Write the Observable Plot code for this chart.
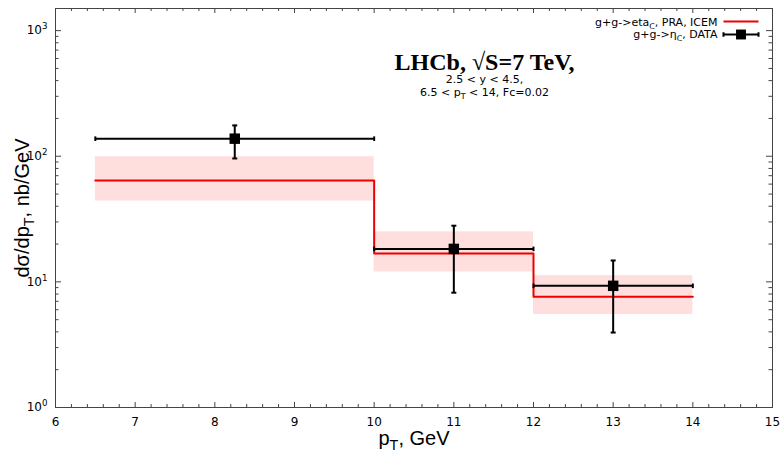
<!DOCTYPE html>
<html><head><meta charset="utf-8">
<script src="https://cdn.jsdelivr.net/npm/d3@7"></script>
<script src="https://cdn.jsdelivr.net/npm/@observablehq/plot@0.6"></script>
<style>body{margin:0;background:#fff}</style>
</head><body><div id="chart"></div>
<script>
// ---- data ----
const binLow = [6.5, 10, 12];
const binHigh = [10, 12, 14];
const theoryCentral = [64, 16.8, 7.6];
const theoryLow = [44, 12, 5.5];
const theoryHigh = [99, 25, 11.2];
const dataPt = [8.25, 11, 13];
const dataValue = [138, 18.3, 9.3];
const dataErrLow = [96, 8.2, 3.95];
const dataErrHigh = [176, 28, 14.8];
const xTicks = [6, 7, 8, 9, 10, 11, 12, 13, 14, 15];
const yTicks = [1, 10, 100, 1000];
const yTickLabels = ["10^{0}", "10^{1}", "10^{2}", "10^{3}"];
const legendLabels = ["g+g->eta_{C}, PRA, ICEM", "g+g->η_{C}, DATA"];
const titleText = "LHCb, √S=7 TeV,";
const subtitleLines = ["2.5 < y < 4.5,", "6.5 < p_{T} < 14, Fc=0.02"];
const xLabel = "p_{T}, GeV";
const yLabel = "dσ/dp_{T}, nb/GeV";

// ---- derived tables ----
const bins = binLow.map((lo, i) => ({lo, hi: binHigh[i], c: theoryCentral[i], l: theoryLow[i], h: theoryHigh[i]}));
const stepPts = bins.flatMap(b => [{x: b.lo, y: b.c}, {x: b.hi, y: b.c}]);
const pts = dataPt.map((x, i) => ({x, lo: binLow[i], hi: binHigh[i], v: dataValue[i], el: dataErrLow[i], eh: dataErrHigh[i]}));
const xMinor = d3.range(60, 150, 2).map(d => d / 10).filter(d => !xTicks.includes(d));
const yMinor = [1, 10, 100].flatMap(p => [2,3,4,5,6,7,8,9].map(k => k * p));

const W = 783, H = 452, mL = 55, mR = 11, mT = 8, mB = 45;
const fw = W - mL - mR, fh = H - mT - mB;
const tickCol = "#444";

const vcap = {draw(ctx) { ctx.moveTo(0, -2.3); ctx.lineTo(0, 2.3); }};
const hcap = {draw(ctx) { ctx.moveTo(-2.5, 0); ctx.lineTo(2.5, 0); }};
const legRed = {draw(ctx) { ctx.moveTo(-17.5, 0); ctx.lineTo(17.5, 0); }};
const legBlack = {draw(ctx) {
  ctx.moveTo(-17.5, 0); ctx.lineTo(17.5, 0);
  ctx.moveTo(-17.5, -2.3); ctx.lineTo(-17.5, 2.3);
  ctx.moveTo(17.5, -2.3); ctx.lineTo(17.5, 2.3);
}};

const red = "#ee0000";
const plot = Plot.plot({
  width: W, height: H,
  marginLeft: mL, marginRight: mR, marginTop: mT, marginBottom: mB,
  style: {fontFamily: "DejaVu Sans", fontSize: "11px", background: "white", color: "black"},
  x: {domain: [6, 15]},
  y: {type: "log", domain: [1, 1500]},
  marks: [
    // theory band + step line
    Plot.rect(bins, {x1: "lo", x2: "hi", y1: "l", y2: "h", fill: "#ffdede"}),
    Plot.line(stepPts, {x: "x", y: "y", stroke: red, strokeWidth: 2}),
    // data error bars
    Plot.ruleY(pts, {x1: "lo", x2: "hi", y: "v", stroke: "black", strokeWidth: 2}),
    Plot.ruleX(pts, {x: "x", y1: "el", y2: "eh", stroke: "black", strokeWidth: 2}),
    Plot.dot(pts, {x: "lo", y: "v", symbol: vcap, stroke: "black", fill: "none", strokeWidth: 2}),
    Plot.dot(pts, {x: "hi", y: "v", symbol: vcap, stroke: "black", fill: "none", strokeWidth: 2}),
    Plot.dot(pts, {x: "x", y: "el", symbol: hcap, stroke: "black", fill: "none", strokeWidth: 2}),
    Plot.dot(pts, {x: "x", y: "eh", symbol: hcap, stroke: "black", fill: "none", strokeWidth: 2}),
    Plot.dot(pts, {x: "x", y: "v", symbol: "square", r: 5.9, fill: "black", stroke: "none"}),
    // frame and mirrored inward ticks
    Plot.frame({stroke: tickCol}),
    Plot.ruleX(xTicks, {stroke: tickCol, insetTop: fh - 5}),
    Plot.ruleX(xTicks, {stroke: tickCol, insetBottom: fh - 5}),
    Plot.ruleX(xMinor, {stroke: tickCol, insetTop: fh - 3}),
    Plot.ruleX(xMinor, {stroke: tickCol, insetBottom: fh - 3}),
    Plot.ruleY(yTicks, {stroke: tickCol, insetRight: fw - 6}),
    Plot.ruleY(yTicks, {stroke: tickCol, insetLeft: fw - 6}),
    Plot.ruleY(yMinor, {stroke: tickCol, insetRight: fw - 3.5}),
    Plot.ruleY(yMinor, {stroke: tickCol, insetLeft: fw - 3.5}),
    // tick labels
    Plot.axisX(xTicks, {tickSize: 0, tickPadding: 9.5, label: null, fontSize: 12, fontFamily: "DejaVu Sans", tickFormat: d => String(d)}),
    Plot.axisY(yTicks, {tickSize: 0, tickPadding: 8, label: null, fontSize: 12, fontFamily: "DejaVu Sans", tickFormat: d => yTickLabels[yTicks.indexOf(d)]}),
    // axis titles
    Plot.text([xLabel], {text: d => d, frameAnchor: "bottom", dy: 37, lineAnchor: "bottom", fontSize: 20, fontFamily: "Liberation Sans"}),
    Plot.text([yLabel], {text: d => d, frameAnchor: "left", dx: -27, rotate: -90, textAnchor: "middle", lineAnchor: "bottom", fontSize: 20, fontFamily: "Liberation Sans"}),
    // annotation
    Plot.text([titleText], {text: d => d, frameAnchor: "top", dx: 70.5, dy: 61, lineAnchor: "bottom", fontSize: 24, fontWeight: "bold", fontFamily: "Liberation Serif"}),
    Plot.text([subtitleLines[0]], {text: d => d, frameAnchor: "top", dx: 70.5, dy: 74.5, lineAnchor: "bottom", fontSize: 11}),
    Plot.text([subtitleLines[1]], {text: d => d, frameAnchor: "top", dx: 70.5, dy: 87.5, lineAnchor: "bottom", fontSize: 11}),
    // legend
    Plot.text([legendLabels[0]], {text: d => d, frameAnchor: "top-right", dx: -55, dy: 17, lineAnchor: "bottom", textAnchor: "end", fontSize: 11}),
    Plot.text([legendLabels[1]], {text: d => d, frameAnchor: "top-right", dx: -55, dy: 29.5, lineAnchor: "bottom", textAnchor: "end", fontSize: 11}),
    Plot.dot([0], {frameAnchor: "top-right", dx: -31.5, dy: 13, symbol: legRed, stroke: red, fill: "none", strokeWidth: 2}),
    Plot.dot([0], {frameAnchor: "top-right", dx: -31.5, dy: 26, symbol: legBlack, stroke: "black", fill: "none", strokeWidth: 2}),
    Plot.dot([0], {frameAnchor: "top-right", dx: -31.5, dy: 26, symbol: "square", r: 5.6, fill: "black", stroke: "none"})
  ]
});
document.getElementById("chart").appendChild(plot);

// render _{..} as subscript and ^{..} as superscript
plot.querySelectorAll("text").forEach(t => {
  const s = t.textContent;
  if (!/[_^]\{/.test(s)) return;
  const fs = parseFloat(getComputedStyle(t).fontSize) || 11;
  const re = /([_^])\{([^}]*)\}/g;
  const parts = [];
  let last = 0, m;
  while ((m = re.exec(s))) {
    if (m.index > last) parts.push({t: s.slice(last, m.index), k: ""});
    parts.push({t: m[2], k: m[1]});
    last = re.lastIndex;
  }
  if (last < s.length) parts.push({t: s.slice(last), k: ""});
  while (t.firstChild) t.removeChild(t.firstChild);
  let shift = 0;
  parts.forEach(p => {
    const ts = document.createElementNS("http://www.w3.org/2000/svg", "tspan");
    const target = p.k === "_" ? 0.28 * fs : p.k === "^" ? -0.42 * fs : 0;
    const dy = target - shift;
    if (dy !== 0) ts.setAttribute("dy", dy);
    shift = target;
    if (p.k) ts.setAttribute("font-size", (0.72 * fs) + "px");
    ts.textContent = p.t;
    t.appendChild(ts);
  });
});
</script>
</body></html>
